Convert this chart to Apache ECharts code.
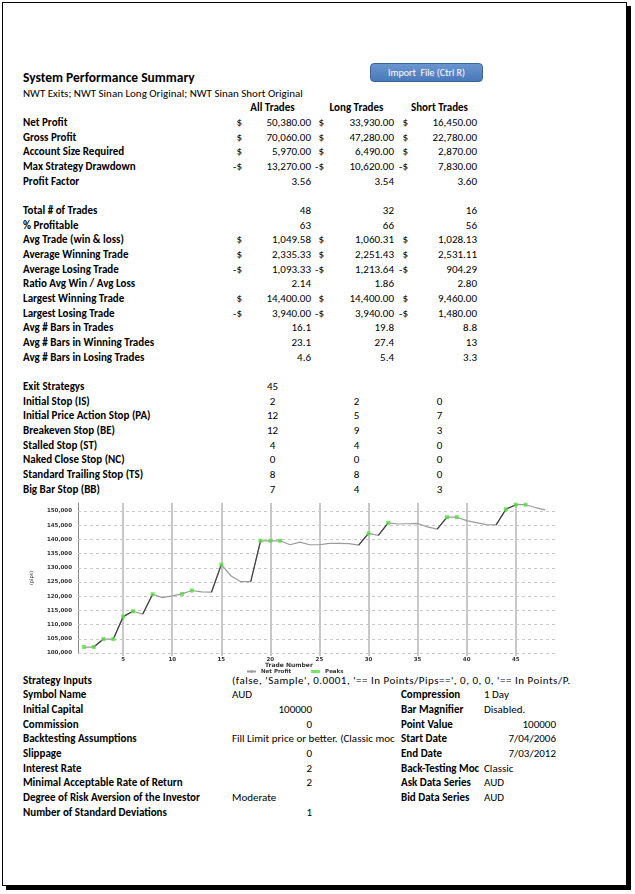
<!DOCTYPE html>
<html><head><meta charset="utf-8">
<script src="https://cdn.jsdelivr.net/npm/echarts@6/dist/echarts.min.js"></script>
<style>
html,body{margin:0;padding:0;background:#fff;}
body{width:635px;height:894px;position:relative;overflow:hidden;font-family:"Carlito","Calibri","Lato",sans-serif;font-size:11px;color:#000;}
#frame{position:absolute;left:2px;top:2px;width:625px;height:884px;box-sizing:border-box;border:1px solid #000;box-shadow:4px 4px 0 #000;}
.t{position:absolute;height:14px;line-height:14px;white-space:pre;}
.b{font-weight:bold;}
#chart{position:absolute;left:20px;top:498px;width:540px;height:176px;}
#btn{position:absolute;left:370px;top:63px;width:113px;height:19px;box-sizing:border-box;border-radius:4px;background:linear-gradient(#6a95cf,#4a79ba);border:1px solid #3b6499;color:#fff;font-size:10px;line-height:17px;text-align:center;white-space:pre;}
</style></head><body>
<div id="frame"></div>
<div id="btn">Import  File (Ctrl R)</div>
<div id="chart"></div>
<script>
// ---------- table text ----------
const title = 'System Performance Summary';
const subtitle = 'NWT Exits; NWT Sinan Long Original; NWT Sinan Short Original';
const headers = ['All Trades', 'Long Trades', 'Short Trades'];

const summaryLabels = ['Net Profit', 'Gross Profit', 'Account Size Required', 'Max Strategy Drawdown', 'Profit Factor'];
const summaryCur = ['$', '$', '$', '-$', ''];
const summaryAll = ['50,380.00', '70,060.00', '5,970.00', '13,270.00', '3.56'];
const summaryLong = ['33,930.00', '47,280.00', '6,490.00', '10,620.00', '3.54'];
const summaryShort = ['16,450.00', '22,780.00', '2,870.00', '7,830.00', '3.60'];

const tradeLabels = ['Total # of Trades', '% Profitable', 'Avg Trade (win & loss)', 'Average Winning Trade', 'Average Losing Trade',
  'Ratio Avg Win / Avg Loss', 'Largest Winning Trade', 'Largest Losing Trade', 'Avg # Bars in Trades',
  'Avg # Bars in Winning Trades', 'Avg # Bars in Losing Trades'];
const tradeCur = ['', '', '$', '$', '-$', '', '$', '-$', '', '', ''];
const tradeAll = ['48', '63', '1,049.58', '2,335.33', '1,093.33', '2.14', '14,400.00', '3,940.00', '16.1', '23.1', '4.6'];
const tradeLong = ['32', '66', '1,060.31', '2,251.43', '1,213.64', '1.86', '14,400.00', '3,940.00', '19.8', '27.4', '5.4'];
const tradeShort = ['16', '56', '1,028.13', '2,531.11', '904.29', '2.80', '9,460.00', '1,480.00', '8.8', '13', '3.3'];

const exitLabels = ['Exit Strategys', 'Initial Stop (IS)', 'Initial Price Action Stop (PA)', 'Breakeven Stop (BE)',
  'Stalled Stop (ST)', 'Naked Close Stop (NC)', 'Standard Trailing Stop (TS)', 'Big Bar Stop (BB)'];
const exitAll = ['45', '2', '12', '12', '4', '0', '8', '7'];
const exitLong = ['', '2', '5', '9', '4', '0', '8', '4'];
const exitShort = ['', '0', '7', '3', '0', '0', '0', '3'];

const inputLabels = ['Strategy Inputs', 'Symbol Name', 'Initial Capital', 'Commission', 'Backtesting Assumptions',
  'Slippage', 'Interest Rate', 'Minimal Acceptable Rate of Return', 'Degree of Risk Aversion of the Investor',
  'Number of Standard Deviations'];
const inputValues = ["(false, 'Sample', 0.0001, '== In Points/Pips==', 0, 0, 0, '== In Points/P.", 'AUD', '100000', '0',
  'Fill Limit price or better. (Classic moc', '0', '2', '2', 'Moderate', '1'];
const inputRightAligned = [false, false, true, true, false, true, true, true, false, true];
const settingLabels = ['Compression', 'Bar Magnifier', 'Point Value', 'Start Date', 'End Date', 'Back-Testing Moc',
  'Ask Data Series', 'Bid Data Series'];
const settingValues = ['1 Day', 'Disabled.', '100000', '7/04/2006', '7/03/2012', 'Classic', 'AUD', 'AUD'];
const settingRightAligned = [false, false, true, true, true, false, false, false];

// ---------- chart data ----------
const tradeNumbers = [1, 2, 3, 4, 5, 6, 7, 8, 9, 10, 11, 12, 13, 14, 15, 16, 17, 18, 19, 20, 21, 22, 23, 24,
  25, 26, 27, 28, 29, 30, 31, 32, 33, 34, 35, 36, 37, 38, 39, 40, 41, 42, 43, 44, 45, 46, 47, 48];
const netProfit = [102100, 102100, 104900, 104900, 112800, 114700, 113700, 120700, 119500, 120100, 120800, 122000,
  121500, 121400, 131100, 127100, 125100, 125100, 139500, 139500, 139500, 138100, 139000, 138100,
  138100, 138600, 138600, 138500, 138000, 142100, 141400, 145800, 145400, 145500, 145600, 144400,
  143600, 147800, 147800, 146600, 145900, 145200, 145100, 150600, 152200, 152200, 151200, 150380];
const peakTrades = [1, 2, 3, 4, 5, 6, 8, 11, 12, 15, 19, 20, 21, 30, 32, 38, 39, 44, 45, 46];
const risingSegments = [[2, 3], [4, 5], [5, 6], [7, 8], [14, 15], [18, 19], [29, 30], [31, 32], [37, 38], [43, 44], [44, 45]];
const xTicks = [5, 10, 15, 20, 25, 30, 35, 40, 45];
const yTicks = [100000, 105000, 110000, 115000, 120000, 125000, 130000, 135000, 140000, 145000, 150000];

// ---------- layout helpers ----------
const PAGE_W = 635;
function put(text, x, y, opt) {
  opt = opt || {};
  const d = document.createElement('div');
  d.className = 't' + (opt.bold ? ' b' : '');
  d.textContent = text;
  if (opt.align === 'right') d.style.right = (PAGE_W - x) + 'px';
  else if (opt.align === 'center') { d.style.left = (x - 60) + 'px'; d.style.width = '120px'; d.style.textAlign = 'center'; }
  else d.style.left = x + 'px';
  d.style.top = (y - 7) + 'px';
  if (opt.size) d.style.fontSize = opt.size + 'px';
  if (opt.spacing) d.style.letterSpacing = opt.spacing + 'px';
  if (opt.width) { d.style.width = opt.width + 'px'; d.style.overflow = 'hidden'; }
  document.body.appendChild(d);
  return d;
}
const LABEL_X = 23;
const cols = [
  { cur: 242, right: 311, center: 272.5 },
  { cur: 324, right: 394, center: 356.5 },
  { cur: 408, right: 477, center: 439.5 }
];
const ROW0 = 123, STEP = 14.67;
const rowY = k => ROW0 + STEP * k;

put(title, LABEL_X, 78, { bold: true, size: 13.5 });
put(subtitle, LABEL_X, rowY(-2));
headers.forEach((h, i) => put(h, cols[i].center, rowY(-1), { bold: true, align: 'center' }));

function moneyBlock(labels, cur, a, l, s, k0) {
  labels.forEach((lab, i) => {
    const y = rowY(k0 + i);
    put(lab, LABEL_X, y, { bold: true });
    [a, l, s].forEach((vals, c) => {
      if (cur[i]) put(cur[i], cols[c].cur, y, { align: 'right' });
      put(vals[i], cols[c].right, y, { align: 'right' });
    });
  });
}
moneyBlock(summaryLabels, summaryCur, summaryAll, summaryLong, summaryShort, 0);
moneyBlock(tradeLabels, tradeCur, tradeAll, tradeLong, tradeShort, 6);
exitLabels.forEach((lab, i) => {
  const y = rowY(18 + i);
  put(lab, LABEL_X, y, { bold: true });
  [exitAll, exitLong, exitShort].forEach((vals, c) => { if (vals[i]) put(vals[i], cols[c].center, y, { align: 'center' }); });
});

const B0 = 680.5;
inputLabels.forEach((lab, i) => {
  const y = B0 + STEP * i;
  put(lab, LABEL_X, y, { bold: true });
  if (inputRightAligned[i]) put(inputValues[i], 312, y, { align: 'right' });
  else if (i === 0) put(inputValues[i], 232, y, { spacing: 0.5 });
  else put(inputValues[i], 232, y, i === 4 ? { width: 168 } : {});
});
settingLabels.forEach((lab, i) => {
  const y = B0 + STEP * (i + 1);
  put(lab, 401, y, { bold: true, width: i === 5 ? 82 : undefined });
  if (settingRightAligned[i]) put(settingValues[i], 556, y, { align: 'right' });
  else put(settingValues[i], 484, y);
});

// ---------- chart ----------
const chart = echarts.init(document.getElementById('chart'), null, { renderer: 'canvas' });
const lineData = tradeNumbers.map((t, i) => [t, netProfit[i]]);
const valueAt = t => netProfit[tradeNumbers.indexOf(t)];
const riseData = [];
risingSegments.forEach(([a, b]) => { riseData.push([a, valueAt(a)], [b, valueAt(b)], [b, '-']); });
const peakData = peakTrades.map(t => [t, valueAt(t)]);
const gridLines = [
  ...xTicks.map(v => ({ xAxis: v, lineStyle: { color: '#c8c8c8', width: 2, type: 'solid' } })),
  ...yTicks.map(v => ({ yAxis: v, lineStyle: { color: '#c8c8c8', width: 1, type: [3, 3] } }))
];
const smallFont = { fontFamily: 'DejaVu Sans', fontSize: 5.5, color: '#333' };

chart.setOption({
  animation: false,
  grid: { left: 58, right: 5, top: 5, bottom: 21 },
  title: {
    text: 'Trade Number', left: 264, top: 159.5, textAlign: 'center',
    textStyle: { ...smallFont, fontSize: 6, fontWeight: 'bold' }
  },
  legend: {
    left: 221, top: 165.5, itemWidth: 9, itemHeight: 3, itemGap: 20,
    textStyle: { ...smallFont, fontWeight: 'bold' },
    data: ['Net Profit', 'Peaks']
  },
  xAxis: {
    type: 'value', min: 0.4, max: 49,
    axisLine: { show: false },
    axisTick: { show: true, customValues: xTicks, length: 3, lineStyle: { color: '#c8c8c8', width: 2 } },
    axisLabel: { customValues: xTicks, ...smallFont, fontWeight: 'bold', margin: 4 },
    splitLine: { show: false }
  },
  yAxis: {
    type: 'value', min: 100000, max: 152800,
    name: '(pips)', nameLocation: 'middle', nameGap: 44,
    nameTextStyle: { ...smallFont, fontSize: 5 },
    axisLine: { show: true, lineStyle: { color: '#8a8a8a', width: 1 } },
    axisTick: { show: false },
    axisLabel: { customValues: yTicks, formatter: v => v.toLocaleString('en-US'), ...smallFont, fontWeight: 'bold', margin: 6 },
    splitLine: { show: false }
  },
  series: [
    {
      name: 'Net Profit', type: 'line', data: lineData, symbol: 'none', z: 3,
      lineStyle: { color: '#9c9c9c', width: 1.2 }, itemStyle: { color: '#9c9c9c' },
      markLine: { silent: true, symbol: ['none', 'none'], label: { show: false }, z: 1, animation: false, data: gridLines }
    },
    {
      name: 'Rise', type: 'line', data: riseData, symbol: 'none', z: 4, connectNulls: false,
      lineStyle: { color: '#404040', width: 1.2 }
    },
    {
      name: 'Peaks', type: 'scatter', data: peakData, symbol: 'rect', symbolSize: 4, z: 5,
      itemStyle: { color: '#55e040' }
    }
  ]
});
</script>
</body></html>
